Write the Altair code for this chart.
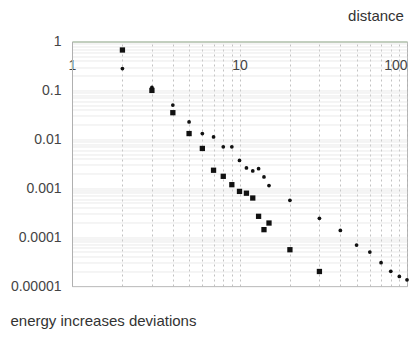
import altair as alt
import pandas as pd

# series
small_x = [2, 3, 4, 5, 6, 7, 8, 9, 10, 11, 12, 13, 14, 15, 20, 30, 40, 50, 60, 70, 80, 90, 100]
small_y = [0.28, 0.115, 0.05, 0.0227, 0.0131, 0.0112, 0.007, 0.007, 0.0037, 0.0026, 0.00225,
           0.0025, 0.0017, 0.00113, 0.000565, 0.000242, 0.000137, 0.0000686, 0.0000493,
           0.00003, 0.00002, 0.0000157, 0.0000134]
big_x = [2, 3, 4, 5, 6, 7, 8, 9, 10, 11, 12, 13, 14, 15, 20, 30]
big_y = [0.67, 0.1, 0.035, 0.0131, 0.0065, 0.00233, 0.00175, 0.00118, 0.00086, 0.00079,
         0.00063, 0.000266, 0.000142, 0.000194, 0.0000552, 0.0000198]

# gridline / tick values
x_grid = [1, 2, 3, 4, 5, 6, 7, 8, 9, 10, 20, 30, 40, 50, 60, 70, 80, 90, 100]
y_grid = [m * 10.0 ** e for e in range(-5, 0) for m in range(1, 10)] + [1]

df = pd.DataFrame({
    "x": small_x + big_x,
    "y": small_y + big_y,
    "s": ["small"] * len(small_x) + ["big"] * len(big_x),
})

label_expr = ("abs(log(datum.value)/LN10 - round(log(datum.value)/LN10)) < 1e-6 "
              "? format(datum.value, '.5~f') : ''")

FONT = "Liberation Sans"

chart = alt.Chart(df).mark_point(filled=True, opacity=1, color="#111").encode(
    x=alt.X("x:Q", scale=alt.Scale(type="log", domain=[1, 100], nice=False),
            axis=alt.Axis(orient="top", values=x_grid, labelExpr=label_expr,
                          ticks=False, tickSize=0, labelPadding=-31,
                          labelAlign={"condition": {"test": "datum.value >= 100", "value": "right"},
                                      "value": "center"},
                          labelOverlap=False, labelFlush=False,
                          labelFont=FONT, labelFontSize=14, labelColor="#444",
                          grid=True, gridColor="#a8a8a8", gridDash=[2, 3], gridWidth=0.7,
                          domainColor="#a9c2a2", domainWidth=1,
                          title="distance", titleFont=FONT, titleFontSize=15,
                          titleFontWeight="normal", titleColor="#333",
                          titleX=303.5, titleY=-26, titleAlign="center",
                          titleBaseline="middle")),
    y=alt.Y("y:Q", scale=alt.Scale(type="log", domain=[0.00001, 1], nice=False),
            axis=alt.Axis(orient="left", values=y_grid, labelExpr=label_expr,
                          ticks=False, tickSize=0, labelPadding=11,
                          labelOverlap=False, labelFlush=False,
                          labelFont=FONT, labelFontSize=14, labelColor="#444",
                          grid=True, gridColor="#dcdcdc", gridWidth=0.6,
                          domainColor="#b0b0b0",
                          title="energy increases deviations", titleFont=FONT,
                          titleFontSize=15, titleFontWeight="normal", titleColor="#333",
                          titleAngle=0, titleX=-62, titleY=284, titleAlign="left",
                          titleBaseline="alphabetic")),
    shape=alt.Shape("s:N", scale=alt.Scale(domain=["big", "small"], range=["square", "circle"]),
                    legend=None),
    size=alt.Size("s:N", scale=alt.Scale(domain=["big", "small"], range=[28, 14]), legend=None),
).properties(
    width=335, height=244.5,
    autosize=alt.AutoSizeParams(type="none"),
    padding={"left": 64, "top": 33.5, "right": 3, "bottom": 43},
    background="white",
).configure_view(stroke="#b8b8b8", strokeWidth=1)

chart.save("out.html", embed_options={"renderer": "svg", "actions": False})
